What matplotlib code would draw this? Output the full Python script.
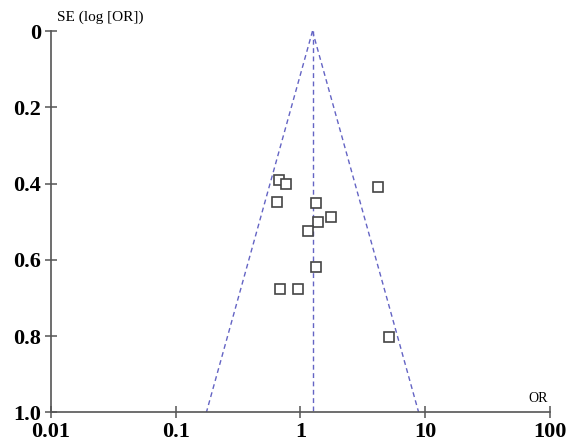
import matplotlib
matplotlib.use('Agg')
import matplotlib.pyplot as plt
import numpy as np

# study estimates
odds_ratio = [0.67, 0.77, 0.65, 1.34, 4.16, 1.76, 1.38, 1.14, 1.34, 0.68, 0.95, 5.17]
se_log_or = [0.391, 0.401, 0.447, 0.450, 0.410, 0.487, 0.501, 0.523, 0.618, 0.676, 0.676, 0.803]
pooled_or = 1.25
x_ticks = [0.01, 0.1, 1, 10, 100]
x_labels = ['0.01', '0.1', '1', '10', '100']
y_ticks = [0, 0.2, 0.4, 0.6, 0.8, 1.0]
y_labels = ['0', '0.2', '0.4', '0.6', '0.8', '1.0']

plt.rcParams['font.family'] = ['Liberation Serif', 'DejaVu Serif']

fig = plt.figure(figsize=(5.71, 4.47), dpi=100)
ax = fig.add_axes([0.0893, 0.0772, 0.8737, 0.8534])

# funnel: pooled estimate and 95% limits
line_col = '#6464c4'
dash = (0, (3.5, 2.5))
se_line = np.array([0, 1.0])
ax.plot([pooled_or, pooled_or], se_line, color=line_col, ls=dash, lw=1.0)
ax.plot(pooled_or * np.exp(-1.96 * se_line), se_line, color=line_col, ls=dash, lw=1.0)
ax.plot(pooled_or * np.exp(1.96 * se_line), se_line, color=line_col, ls=dash, lw=1.0)

ax.plot(odds_ratio, se_log_or, 's', ms=6.5, mfc='white', mec='#444444', mew=1.2, ls='none')

ax.set_xscale('log')
ax.set_xlim(0.01, 100)
ax.set_ylim(1.0, 0)
ax.set_xticks(x_ticks)
ax.set_xticklabels(x_labels)
ax.set_yticks(y_ticks)
ax.set_yticklabels(y_labels)
ax.minorticks_off()

for s in ['top', 'right']:
    ax.spines[s].set_visible(False)
for s in ['left', 'bottom']:
    ax.spines[s].set_color('#555555')
    ax.spines[s].set_linewidth(1.2)
ax.tick_params(direction='inout', length=8, width=1.1, color='#555555',
               labelsize=16, pad=3)
for lab in ax.get_xticklabels() + ax.get_yticklabels():
    lab.set_fontweight('bold')

fig.text(57 / 571, 1 - 17 / 447, 'SE (log [OR])', fontsize=11, ha='left', va='center')
fig.text(548 / 571, 1 - 399 / 447, 'OR', fontsize=10, ha='right', va='center')

fig.savefig('out.png', dpi=100)
